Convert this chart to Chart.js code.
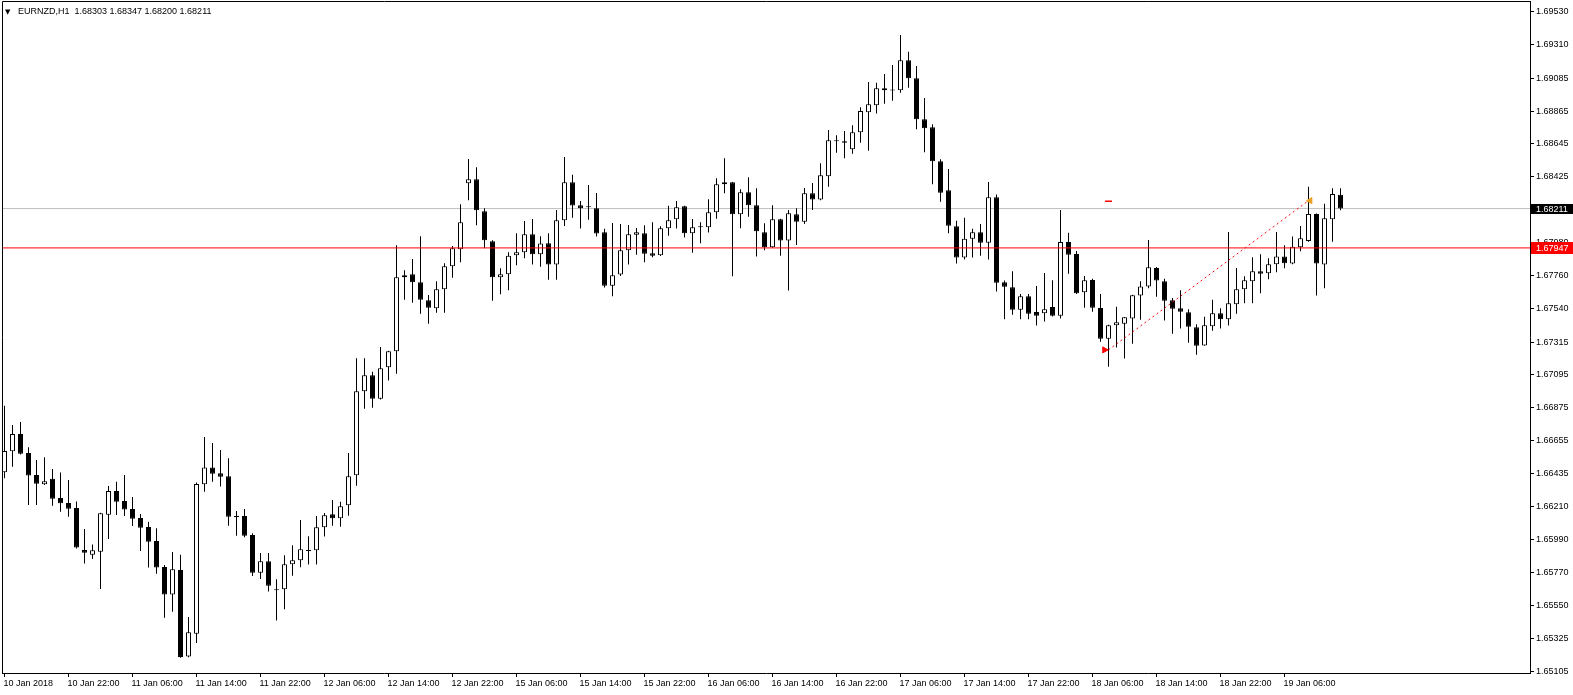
<!DOCTYPE html>
<html><head><meta charset="utf-8">
<script src="https://cdn.jsdelivr.net/npm/chart.js@4.4.1/dist/chart.umd.min.js"></script>
<style>html,body{margin:0;padding:0;background:#fff;overflow:hidden}canvas{display:block}</style>
</head><body>
<canvas id="c" width="1573" height="695"></canvas>
<script>
const symbolTitle = "EURNZD,H1";
const lastOHLC = ["1.68303", "1.68347", "1.68200", "1.68211"];
const xTickLabels = ["10 Jan 2018","10 Jan 22:00","11 Jan 06:00","11 Jan 14:00","11 Jan 22:00","12 Jan 06:00","12 Jan 14:00","12 Jan 22:00","15 Jan 06:00","15 Jan 14:00","15 Jan 22:00","16 Jan 06:00","16 Jan 14:00","16 Jan 22:00","17 Jan 06:00","17 Jan 14:00","17 Jan 22:00","18 Jan 06:00","18 Jan 14:00","18 Jan 22:00","19 Jan 06:00"];
const xTickBars = [0,8,16,24,32,40,48,56,64,72,80,88,96,104,112,120,128,136,144,152,160];
const yTickValues = [1.69530,1.69310,1.69085,1.68865,1.68645,1.68425,1.68205,1.67980,1.67760,1.67540,1.67315,1.67095,1.66875,1.66655,1.66435,1.66210,1.65990,1.65770,1.65550,1.65325,1.65105];

const opens = [
1.66443,1.66583,1.66699,1.66572,1.66424,1.66362,1.66398,1.66270,1.66237,1.66203,
1.65921,1.65889,1.65910,1.66158,1.66317,1.66250,1.66196,1.66136,1.66075,1.65981,
1.65807,1.65622,1.65787,1.65206,1.65360,1.66362,1.66475,1.66436,1.66416,1.66149,
1.66149,1.66022,1.65769,1.65846,1.65655,1.65657,1.65826,1.65853,1.65918,1.65919,
1.66073,1.66161,1.66134,1.66221,1.66423,1.66986,1.67093,1.66936,1.67146,1.67254,
1.67750,1.67770,1.67716,1.67596,1.67542,1.67670,1.67824,1.67938,1.68381,1.68408,
1.68193,1.67992,1.67750,1.67770,1.67897,1.67918,1.68039,1.67904,1.67978,1.67835,
1.68132,1.68387,1.68233,1.68221,1.68213,1.68052,1.67693,1.67768,1.67931,1.68036,
1.68046,1.67911,1.67897,1.68079,1.68139,1.68227,1.68046,1.68086,1.68086,1.68186,
1.68374,1.68387,1.68173,1.68320,1.68233,1.68052,1.67951,1.68139,1.67996,1.68173,
1.68123,1.68313,1.68271,1.68428,1.68662,1.68663,1.68609,1.68722,1.68857,1.68904,
1.69018,1.69003,1.69004,1.69206,1.69085,1.68810,1.68756,1.68528,1.68333,1.68092,
1.67882,1.68009,1.68052,1.67982,1.68287,1.67716,1.67684,1.67533,1.67623,1.67517,
1.67508,1.67551,1.67492,1.67987,1.67906,1.67650,1.67732,1.67544,1.67338,1.67429,
1.67439,1.67473,1.67627,1.67689,1.67813,1.67723,1.67596,1.67542,1.67515,1.67415,
1.67293,1.67422,1.67508,1.67469,1.67569,1.67670,1.67723,1.67790,1.67777,1.67838,
1.67890,1.67842,1.67951,1.67994,1.68175,1.67835,1.68139,1.68303];
const highs = [
1.66888,1.66760,1.66780,1.66610,1.66525,1.66543,1.66465,1.66440,1.66391,1.66246,
1.66062,1.65957,1.66170,1.66350,1.66379,1.66424,1.66276,1.66163,1.66111,1.66066,
1.65821,1.65907,1.65889,1.65471,1.66373,1.66679,1.66639,1.66592,1.66536,1.66183,
1.66196,1.66034,1.65901,1.65901,1.65725,1.65885,1.65953,1.66122,1.66013,1.66149,
1.66169,1.66257,1.66244,1.66572,1.67207,1.67207,1.67117,1.67282,1.67257,1.67965,
1.67797,1.67873,1.68025,1.67632,1.67723,1.67844,1.67960,1.68240,1.68543,1.68488,
1.68213,1.67999,1.67811,1.67918,1.68046,1.68128,1.68141,1.68025,1.68046,1.68202,
1.68557,1.68437,1.68262,1.68369,1.68315,1.68075,1.68114,1.68107,1.68100,1.68081,
1.68099,1.68119,1.68092,1.68229,1.68262,1.68230,1.68141,1.68119,1.68274,1.68414,
1.68548,1.68389,1.68340,1.68421,1.68347,1.68112,1.68233,1.68142,1.68202,1.68213,
1.68349,1.68383,1.68514,1.68738,1.68702,1.68731,1.68770,1.68891,1.69060,1.69054,
1.69113,1.69174,1.69375,1.69262,1.69167,1.68953,1.68776,1.68541,1.68477,1.68130,
1.68150,1.68075,1.68107,1.68389,1.68306,1.67729,1.67791,1.67638,1.67638,1.67691,
1.67779,1.67730,1.68202,1.68048,1.67926,1.67759,1.67741,1.67638,1.67431,1.67553,
1.67483,1.67633,1.67723,1.68000,1.67819,1.67741,1.67611,1.67663,1.67536,1.67435,
1.67485,1.67600,1.67542,1.68054,1.67813,1.67757,1.67885,1.67904,1.67878,1.68054,
1.67965,1.68023,1.68094,1.68358,1.68177,1.68244,1.68347,1.68347];
const lows = [
1.66402,1.66479,1.66562,1.66223,1.66223,1.66357,1.66217,1.66178,1.66144,1.65931,
1.65830,1.65860,1.65659,1.65995,1.66156,1.66149,1.66082,1.65914,1.65803,1.65762,
1.65467,1.65507,1.65199,1.65202,1.65297,1.66312,1.66379,1.66346,1.66084,1.66017,
1.66007,1.65747,1.65726,1.65642,1.65448,1.65523,1.65749,1.65805,1.65823,1.65823,
1.66011,1.66084,1.66077,1.66151,1.66352,1.66869,1.66875,1.66931,1.67057,1.67103,
1.67600,1.67580,1.67506,1.67439,1.67512,1.67512,1.67747,1.67851,1.68267,1.68099,
1.67945,1.67593,1.67636,1.67663,1.67830,1.67878,1.67835,1.67821,1.67734,1.67734,
1.68094,1.68150,1.68077,1.68136,1.68023,1.67681,1.67623,1.67759,1.67835,1.67901,
1.67851,1.67885,1.67893,1.68029,1.68077,1.68016,1.67915,1.67978,1.68050,1.68143,
1.68313,1.67757,1.68079,1.68156,1.67889,1.67931,1.67948,1.67895,1.67661,1.67967,
1.68107,1.68202,1.68267,1.68358,1.68586,1.68548,1.68579,1.68653,1.68599,1.68848,
1.68914,1.68934,1.68988,1.69022,1.68743,1.68588,1.68374,1.68257,1.68046,1.67842,
1.67869,1.67882,1.67895,1.67869,1.67654,1.67469,1.67499,1.67469,1.67469,1.67426,
1.67453,1.67487,1.67473,1.67774,1.67638,1.67546,1.67519,1.67318,1.67150,1.67279,
1.67205,1.67304,1.67466,1.67677,1.67620,1.67460,1.67372,1.67406,1.67311,1.67231,
1.67290,1.67392,1.67406,1.67426,1.67506,1.67576,1.67576,1.67643,1.67737,1.67784,
1.67811,1.67838,1.67924,1.67989,1.67627,1.67677,1.67989,1.68200];
const closes = [
1.66585,1.66699,1.66567,1.66420,1.66366,1.66382,1.66265,1.66235,1.66198,1.65937,
1.65903,1.65919,1.66167,1.66317,1.66244,1.66192,1.66131,1.66070,1.65977,1.65803,
1.65622,1.65792,1.65204,1.65369,1.66364,1.66475,1.66433,1.66413,1.66144,1.66140,
1.66017,1.65769,1.65846,1.65681,1.65651,1.65826,1.65853,1.65926,1.65914,1.66073,
1.66154,1.66134,1.66215,1.66416,1.66986,1.67093,1.66936,1.67140,1.67254,1.67750,
1.67764,1.67716,1.67600,1.67546,1.67670,1.67824,1.67945,1.68119,1.68408,1.68200,
1.67998,1.67750,1.67770,1.67895,1.67918,1.68039,1.67904,1.67976,1.67835,1.68132,
1.68387,1.68231,1.68213,1.68219,1.68043,1.67693,1.67764,1.67931,1.68039,1.68052,
1.67908,1.67895,1.68079,1.68132,1.68220,1.68046,1.68086,1.68088,1.68186,1.68374,
1.68387,1.68173,1.68320,1.68233,1.68059,1.67951,1.68139,1.67996,1.68179,1.68123,
1.68313,1.68271,1.68435,1.68669,1.68664,1.68653,1.68722,1.68866,1.68910,1.69018,
1.69004,1.69005,1.69206,1.69085,1.68810,1.68749,1.68528,1.68317,1.68096,1.67882,
1.68009,1.68052,1.67982,1.68287,1.67714,1.67687,1.67533,1.67623,1.67506,1.67492,
1.67536,1.67492,1.67987,1.67901,1.67643,1.67730,1.67546,1.67338,1.67429,1.67449,
1.67482,1.67630,1.67689,1.67817,1.67729,1.67593,1.67539,1.67519,1.67419,1.67291,
1.67429,1.67508,1.67469,1.67576,1.67670,1.67730,1.67790,1.67774,1.67838,1.67890,
1.67844,1.67955,1.68012,1.68175,1.67842,1.68146,1.68308,1.68211];

const bidPrice = 1.68211;
const hLinePrice = 1.67947;
const tradeOpen = { bar: 138, price: 1.67263 };
const tradeClose = { bar: 163, price: 1.68264 };
const tpMark = { bar: 138, price: 1.68260 };

// view window (bar index / price range visible on screen)
const X_MIN = -0.3125, X_MAX = 190.6875;
const Y_MIN = 1.65096, Y_MAX = 1.69603;

const wickData = opens.map((_, i) => ({ x: i, y: [lows[i], highs[i]] }));
const bodyData = opens.map((_, i) => ({ x: i, y: [opens[i], closes[i]] }));
const isBull = i => closes[i] >= opens[i];

const FONT = 'Liberation Sans';
const priceTags = [
  { value: bidPrice, bg: '#000000', h: 10 },
  { value: hLinePrice, bg: '#ff0000', h: 12 }
];

const mt4Plugin = {
  id: 'mt4',
  afterDraw(chart) {
    const { ctx, chartArea: a } = chart;
    const ys = chart.scales.y;
    ctx.save();
    ctx.strokeStyle = '#000';
    ctx.lineWidth = 1;
    ctx.beginPath();
    ctx.moveTo(Math.round(a.left) + 0.5, Math.round(a.bottom));
    ctx.lineTo(Math.round(a.left) + 0.5, Math.round(a.top) + 0.5);
    ctx.lineTo(Math.round(a.right) + 1, Math.round(a.top) + 0.5);
    ctx.stroke();
    // header
    ctx.fillStyle = '#000';
    ctx.textBaseline = 'middle';
    ctx.textAlign = 'left';
    ctx.font = '7px "DejaVu Sans"';
    ctx.fillText('\u25BC', 5, 12);
    ctx.font = '9px "' + FONT + '"';
    ctx.fillText(symbolTitle + '  ' + lastOHLC.join(' '), 18, 12);
    // price tags on the axis
    for (const p of priceTags) {
      const py = ys.getPixelForValue(p.value);
      ctx.fillStyle = p.bg;
      ctx.fillRect(Math.round(a.right) + 1, Math.round(py - p.h / 2), chart.width - Math.round(a.right) - 1, p.h);
      ctx.fillStyle = '#fff';
      ctx.fillText(p.value.toFixed(5), Math.round(a.right) + 6, py + 0.5);
    }
    ctx.restore();
  }
};

new Chart(document.getElementById('c'), {
  type: 'bar',
  data: {
    datasets: [
      { type: 'line', data: [{ x: X_MIN, y: bidPrice }, { x: X_MAX, y: bidPrice }], borderColor: '#c0c0c0', borderWidth: 1, pointRadius: 0, order: 10 },
      { type: 'bar', data: wickData, backgroundColor: '#000', borderWidth: 0, barThickness: 1, grouped: false, inflateAmount: 0, order: 6 },
      { type: 'bar', data: bodyData,
        backgroundColor: c => isBull(c.dataIndex) ? '#ffffff' : '#000000',
        borderColor: '#000', borderWidth: 1, borderSkipped: false, barThickness: 5, grouped: false, inflateAmount: 0, minBarLength: 1, order: 5 },
      { type: 'line', data: [{ x: X_MIN, y: hLinePrice }, { x: X_MAX, y: hLinePrice }], borderColor: '#ff0000', borderWidth: 1, pointRadius: 0, order: 4 },
      { type: 'line', data: [{ x: tradeOpen.bar, y: tradeOpen.price }, { x: tradeClose.bar, y: tradeClose.price }], borderColor: '#ff0000', borderWidth: 1, borderDash: [2, 3], pointRadius: 0, order: 3 },
      { type: 'line', data: [{ x: tradeOpen.bar - 0.5, y: tradeOpen.price }], showLine: false, pointStyle: 'triangle', rotation: 90, pointRadius: 3.5, backgroundColor: '#ff0000', borderColor: '#ff0000', borderWidth: 1, order: 2 },
      { type: 'line', data: [{ x: tradeClose.bar + 0.2, y: tradeClose.price }], showLine: false, pointStyle: 'triangle', rotation: -90, pointRadius: 3.5, backgroundColor: '#e8a020', borderColor: '#e8a020', borderWidth: 1, order: 2 },
      { type: 'line', data: [{ x: tpMark.bar, y: tpMark.price }], showLine: false, pointStyle: 'line', pointRadius: 3.5, borderColor: '#ff0000', borderWidth: 1.5, order: 2 }
    ]
  },
  options: {
    responsive: false,
    animation: false,
    devicePixelRatio: 1,
    events: [],
    layout: { autoPadding: false, padding: { left: 2, top: 1, right: 0, bottom: 0 } },
    plugins: { legend: { display: false }, tooltip: { enabled: false }, title: { display: false } },
    scales: {
      x: {
        type: 'linear', min: X_MIN, max: X_MAX, offset: false,
        afterBuildTicks: s => { s.ticks = xTickBars.map(v => ({ value: v })); },
        afterFit: s => { s.height = 22; s.paddingLeft = 0; s.paddingRight = 0; },
        grid: { drawOnChartArea: false, drawTicks: true, tickLength: 4, color: '#000', offset: false },
        border: { display: true, color: '#000', width: 1 },
        ticks: { autoSkip: false, maxRotation: 0, minRotation: 0, align: 'start', padding: 1, labelOffset: -1, color: '#000',
          font: { family: FONT, size: 9 }, callback: (v, i) => xTickLabels[i] }
      },
      y: {
        type: 'linear', position: 'right', min: Y_MIN, max: Y_MAX,
        afterBuildTicks: s => { s.ticks = yTickValues.map(v => ({ value: v })); },
        afterFit: s => { s.width = 43; s.paddingTop = 0; s.paddingBottom = 0; },
        grid: { drawOnChartArea: false, drawTicks: true, tickLength: 4, color: '#000' },
        border: { display: true, color: '#000', width: 1 },
        ticks: { autoSkip: false, padding: 2, color: '#000', font: { family: FONT, size: 9 }, callback: v => Number(v).toFixed(5) }
      }
    }
  },
  plugins: [mt4Plugin]
});
</script>
</body></html>
